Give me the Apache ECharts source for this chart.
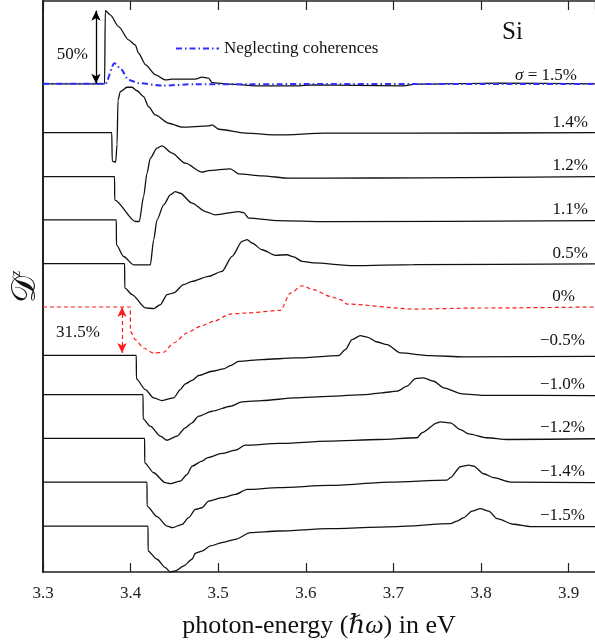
<!DOCTYPE html>
<html>
<head>
<meta charset="utf-8">
<script src="https://cdn.jsdelivr.net/npm/echarts@6/dist/echarts.min.js"></script>
<style>
  html, body { margin: 0; padding: 0; background: #fff; }
  #chart { width: 595px; height: 644px; }
</style>
</head>
<body>
<div id="chart"></div>
<script>
// Photon energy axis (eV) tick labels
const tickLabels = ['3.3', '3.4', '3.5', '3.6', '3.7', '3.8', '3.9'];

// Strain value of each spectrum, top to bottom
const strainLabels = ['σ = 1.5%', '1.4%', '1.2%', '1.1%', '0.5%', '0%', '−0.5%', '−1.0%', '−1.2%', '−1.4%', '−1.5%'];

// Vertical offset (in %) applied to each stacked spectrum
const curveOffsets = [333.4, 300.1, 270.1, 240.5, 210.6, 181.0, 148.0, 121.2, 91.2, 61.4, 31.4];

// D^z spectra in %, as [photon energy (eV), value]
const s15 = [[3.3,0],[3.3703,0],[3.3711,50],[3.3768,47.1],[3.3863,39.1],[3.3977,30.0],[3.4053,26.6],[3.4091,20.9],[3.4171,13.0],[3.4285,6.1],[3.4399,2.7],[3.4473,3.2],[3.4739,3.2],[3.4815,4.6],[3.4890,3.9],[3.4929,0.9],[3.5119,-0.2],[3.5500,-1.4],[3.5880,-1.4],[3.6086,-0.7],[3.7079,-1.4],[3.7269,-0.2],[3.8183,0.5],[3.93,0]];
const s14 = [[3.3,0],[3.3785,0],[3.3790,-19.5],[3.3830,-20.2],[3.3845,-8.0],[3.3856,22.2],[3.3882,28.0],[3.3959,31.0],[3.4016,31.0],[3.4073,28.6],[3.4148,24.6],[3.4205,17.7],[3.4282,12.1],[3.4434,6.4],[3.4587,3.7],[3.4890,4.6],[3.4929,5.3],[3.5005,2.3],[3.5309,-0.4],[3.5689,-1.6],[3.6223,-0.4],[3.7227,-0.4],[3.93,0]];
const s12 = [[3.3,0],[3.3817,0],[3.3818,-15.9],[3.4054,-30.7],[3.4099,-30.7],[3.4148,-13.6],[3.4187,2.3],[3.4225,12.6],[3.4301,19.4],[3.4358,20.9],[3.4473,16.0],[3.4624,9.1],[3.4815,3.0],[3.4890,4.1],[3.5138,5.3],[3.5233,1.8],[3.5500,0.5],[3.5804,-1.1],[3.6223,-1.1],[3.7341,-0.9],[3.93,0]];
const s11 = [[3.3,0],[3.3837,0],[3.3838,-17.1],[3.3920,-25.0],[3.4034,-30.7],[3.4225,-30.7],[3.4263,-13.6],[3.4301,0],[3.4377,10.2],[3.4453,17.1],[3.4510,19.3],[3.4567,18.2],[3.4701,11.4],[3.4853,5.7],[3.4967,3.4],[3.5233,5.7],[3.5290,5.0],[3.5347,1.2],[3.5689,-0.5],[3.6223,-1.2],[3.93,-0.5]];
const s05 = [[3.3,0],[3.3932,0],[3.3933,-16.6],[3.4016,-21.1],[3.4168,-30.2],[3.4263,-30.7],[3.4339,-28.0],[3.4416,-21.1],[3.4491,-20.0],[3.4605,-14.3],[3.4701,-12.1],[3.4890,-8.7],[3.5043,-5.3],[3.5158,5.0],[3.5272,15.2],[3.5329,16.4],[3.5386,14.1],[3.5500,9.5],[3.5652,5.7],[3.5785,6.1],[3.5861,4.6],[3.5957,1.6],[3.6089,0.5],[3.6546,-1.4],[3.7231,-0.7],[3.93,-0.2]];
const s00 = [[3.3,0],[3.3997,0],[3.3998,-16.6],[3.4054,-22.3],[3.4148,-28.0],[3.4263,-31.5],[3.4377,-30.9],[3.4491,-24.6],[3.4644,-17.7],[3.4796,-13.2],[3.4948,-9.8],[3.5138,-4.8],[3.5329,-4.1],[3.5709,-2.3],[3.5823,9.5],[3.5957,14.5],[3.6089,11.8],[3.6280,7.2],[3.6394,5.0],[3.6470,2.0],[3.7231,-1.4],[3.7992,-0.7],[3.93,0]];
const sm05 = [[3.3,0],[3.4065,0],[3.4066,-16.1],[3.4168,-23.4],[3.4263,-29.1],[3.4358,-30.9],[3.4491,-29.1],[3.4567,-23.4],[3.4624,-19.5],[3.4701,-17.1],[3.4776,-13.8],[3.4929,-10.9],[3.5062,-9.3],[3.5138,-7.0],[3.5233,-4.1],[3.5500,-2.9],[3.5880,-1.8],[3.6374,-0.2],[3.6451,3.9],[3.6527,10.7],[3.6622,13.4],[3.6699,12.4],[3.6813,9.1],[3.6927,7.3],[3.7079,1.6],[3.7421,-0.2],[3.7801,-1.1],[3.93,-0.7]];
const sm10 = [[3.3,0],[3.4142,0],[3.4143,-16.6],[3.4225,-21.6],[3.4339,-28.4],[3.4416,-31.2],[3.4530,-28.4],[3.4624,-22.7],[3.4701,-19.3],[3.4776,-14.8],[3.4929,-11.4],[3.5138,-8.0],[3.5272,-5.0],[3.5500,-4.1],[3.5880,-2.3],[3.6260,-1.2],[3.6679,0],[3.6870,1.2],[3.7041,2.3],[3.7155,5.7],[3.7250,10.9],[3.7345,11.4],[3.7459,9.1],[3.7573,4.6],[3.7783,0.5],[3.8030,-0.5],[3.93,-0.7]];
const sm12 = [[3.3,0],[3.4160,0],[3.4161,-16.6],[3.4263,-23.4],[3.4396,-30.2],[3.4453,-30.9],[3.4567,-29.1],[3.4644,-24.6],[3.4701,-18.9],[3.4815,-15.5],[3.4872,-13.2],[3.5043,-10.2],[3.5195,-8.0],[3.5309,-4.6],[3.5689,-3.4],[3.6260,-1.8],[3.6831,-0.7],[3.7269,0.5],[3.7326,3.9],[3.7498,10.7],[3.7535,11.4],[3.7650,10.7],[3.7764,6.1],[3.7858,3.2],[3.8068,0.5],[3.8297,-0.7],[3.93,-0.2]];
const sm14 = [[3.3,0],[3.4187,0],[3.4188,-16.4],[3.4301,-23.6],[3.4416,-30.0],[3.4479,-31.1],[3.4587,-28.9],[3.4662,-24.3],[3.4739,-18.6],[3.4815,-17.5],[3.4890,-13.0],[3.5043,-10.6],[3.5195,-8.4],[3.5329,-5.0],[3.5689,-3.8],[3.6260,-2.3],[3.6964,0],[3.7612,1.4],[3.7650,3.0],[3.7764,10.5],[3.7858,11.6],[3.7915,10.9],[3.8030,5.7],[3.8144,3.0],[3.8335,0],[3.93,-0.4]];
const sm15 = [[3.3,0],[3.4199,0],[3.4200,-17.1],[3.4301,-22.7],[3.4396,-28.4],[3.4453,-31.4],[3.4510,-30.7],[3.4605,-27.3],[3.4701,-22.7],[3.4739,-18.6],[3.4815,-17.1],[3.4910,-13.6],[3.5043,-11.3],[3.5195,-9.1],[3.5367,-4.5],[3.5689,-3.4],[3.6260,-1.8],[3.7041,-0.4],[3.7650,1.6],[3.7726,3.4],[3.7802,5.7],[3.7897,10.2],[3.7992,11.9],[3.8087,10.2],[3.8183,5.0],[3.8372,1.2],[3.8562,-0.4],[3.93,-0.4]];

// σ = 1.5% spectrum computed without the coherence terms
const s15NoCoh = [[3.3,0],[3.3711,0],[3.3814,14.1],[3.3882,10.7],[3.3977,2.7],[3.4091,0.5],[3.4358,-1.2],[3.4739,-0.2],[3.93,0]];

// Annotated amplitudes (%)
const peakAmplitude = 50;     // σ = 1.5% edge jump
const dipAmplitude = 31.5;    // σ = 0% edge drop
const peakArrowEnergy = 3.3605;
const dipArrowEnergy = 3.3902;

const spectra = [s15, s14, s12, s11, s05, s00, sm05, sm10, sm12, sm14, sm15];

const SERIF = "'Liberation Serif', 'DejaVu Serif', serif";
const X_MIN = 3.3, X_MAX = 3.93;

const shifted = (arr, off) => arr.map(([e, d]) => [e, d + off]);

const series = spectra.map((arr, i) => {
  const isRef = i === 5;
  return {
    name: strainLabels[i],
    type: 'line',
    data: shifted(arr, curveOffsets[i]),
    showSymbol: false,
    symbol: 'none',
    smooth: 0.25,
    smoothMonotone: 'x',
    animation: false,
    z: 2,
    lineStyle: isRef
      ? { color: '#ff1a1a', width: 1.2, type: [4, 3] }
      : { color: '#111', width: 1.3 }
  };
});

// Edge-height arrows
series[0].markLine = {
  silent: true, animation: false,
  symbol: ['arrow', 'arrow'], symbolSize: [7, 10],
  label: { show: false },
  lineStyle: { color: '#000', width: 1.3, type: 'solid' },
  data: [[
    { coord: [peakArrowEnergy, curveOffsets[0]] },
    { coord: [peakArrowEnergy, curveOffsets[0] + peakAmplitude] }
  ]]
};
series[5].markLine = {
  silent: true, animation: false,
  symbol: ['arrow', 'arrow'], symbolSize: [7, 10],
  label: { show: false },
  lineStyle: { color: '#ff1a1a', width: 1.2, type: [4, 3] },
  data: [[
    { coord: [dipArrowEnergy, curveOffsets[5]] },
    { coord: [dipArrowEnergy, curveOffsets[5] - dipAmplitude] }
  ]]
};

series.push({
  name: 'Neglecting coherences',
  type: 'line',
  data: shifted(s15NoCoh, curveOffsets[0]),
  showSymbol: false,
  symbol: 'none',
  smooth: 0.25,
  smoothMonotone: 'x',
  animation: false,
  z: 3,
  lineStyle: { color: '#2f2fff', width: 2, type: [6, 3, 1.5, 3] }
});

const chart = echarts.init(document.getElementById('chart'), null, { renderer: 'canvas' });

const option = {
  animation: false,
  backgroundColor: '#fff',
  grid: { left: 43, right: 0, top: 1, bottom: 71, containLabel: false },
  legend: {
    data: ['Neglecting coherences'],
    left: 170, top: 35,
    itemWidth: 43, itemHeight: 14,
    itemStyle: { opacity: 0 },
    textStyle: { fontFamily: SERIF, fontSize: 17, color: '#111' }
  },
  xAxis: [{
    type: 'value', min: X_MIN, max: X_MAX, interval: 0.1,
    position: 'bottom',
    axisLine: { show: true, lineStyle: { color: '#222', width: 1.5 } },
    axisTick: { show: true, inside: true, length: 9, lineStyle: { color: '#222', width: 1.2 } },
    axisLabel: {
      show: true, margin: 13, showMaxLabel: false,
      fontFamily: SERIF, fontSize: 17, color: '#222',
      formatter: v => tickLabels[Math.round((v - X_MIN) / 0.1)] || ''
    },
    splitLine: { show: false },
    name: 'photon-energy ({i|ℏω}) in eV',
    nameLocation: 'middle', nameGap: 41,
    nameTextStyle: {
      fontFamily: SERIF, fontSize: 26, color: '#111',
      rich: { i: { fontFamily: SERIF, fontSize: 26, fontStyle: 'italic', color: '#111' } }
    }
  }, {
    type: 'value', min: X_MIN, max: X_MAX, interval: 0.1,
    position: 'top',
    axisLine: { show: true, lineStyle: { color: '#222', width: 1.5 } },
    axisTick: { show: true, inside: true, length: 9, lineStyle: { color: '#222', width: 1.2 } },
    axisLabel: { show: false },
    splitLine: { show: false }
  }],
  yAxis: {
    type: 'value', min: 0, max: 390,
    axisLine: { show: true, lineStyle: { color: '#222', width: 2 } },
    axisTick: { show: false },
    axisLabel: { show: false },
    splitLine: { show: false }
  },
  series: series
};

chart.setOption(option);

// Right-hand strain labels and annotations, placed against the axes
const labelRight = [577, 588, 588, 588, 588, 575, 585, 585, 585, 585, 585];
const labelRise = [8, 10, 11.5, 10, 10.5, 10.5, 15, 10, 10.5, 11, 10.5];
const graphics = strainLabels.map((txt, i) => {
  const base = chart.convertToPixel({ gridIndex: 0 }, [X_MIN, curveOffsets[i]]);
  const isSigma = i === 0;
  return {
    type: 'text',
    x: labelRight[i], y: base[1] - labelRise[i],
    style: {
      text: isSigma ? '{i|σ} = 1.5%' : txt,
      fontFamily: SERIF, fontSize: 17, fill: '#111',
      align: 'right', verticalAlign: 'middle',
      rich: isSigma ? { i: { fontFamily: SERIF, fontSize: 17, fontStyle: 'italic', fill: '#111' } } : undefined
    },
    z: 10
  };
});

const topArrow = chart.convertToPixel({ gridIndex: 0 }, [peakArrowEnergy, curveOffsets[0] + peakAmplitude / 2]);
const redArrow = chart.convertToPixel({ gridIndex: 0 }, [dipArrowEnergy, curveOffsets[5] - dipAmplitude / 2]);

graphics.push(
  { type: 'text', x: topArrow[0] - 8, y: topArrow[1] + 7,
    style: { text: peakAmplitude + '%', fontFamily: SERIF, fontSize: 17, fill: '#111', align: 'right', verticalAlign: 'middle' } },
  { type: 'text', x: redArrow[0] - 22, y: redArrow[1] + 2,
    style: { text: dipAmplitude + '%', fontFamily: SERIF, fontSize: 17, fill: '#111', align: 'right', verticalAlign: 'middle' } },
  { type: 'text', x: 502, y: 32,
    style: { text: 'Si', fontFamily: SERIF, fontSize: 25, fill: '#111', align: 'left', verticalAlign: 'middle' } },
  { type: 'text', x: 26, y: 287, rotation: Math.PI / 2,
    style: {
      text: '{d|𝒟}{z|z}', align: 'center', verticalAlign: 'middle',
      rich: {
        d: { fontFamily: "'DejaVu Serif', 'DejaVu Sans', serif", fontSize: 34, fill: '#111' },
        z: { fontFamily: SERIF, fontSize: 15, fontStyle: 'italic', fill: '#111', verticalAlign: 'top', padding: [0, 0, 14, 0] }
      }
    } }
);

chart.setOption({ graphic: graphics });
</script>
</body>
</html>
